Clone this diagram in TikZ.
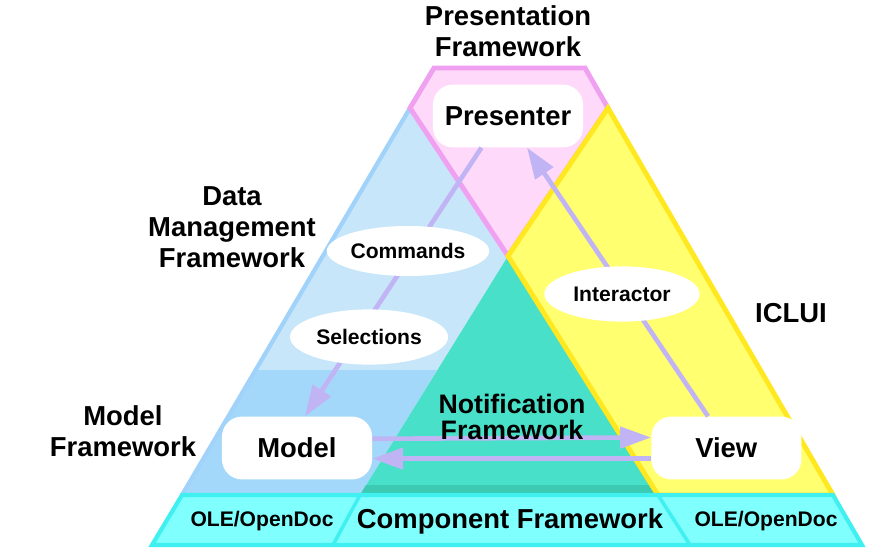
\documentclass[tikz,border=0pt]{standalone}
\usepackage{fontspec}
\setmainfont{Liberation Sans}
\usetikzlibrary{positioning,shapes.geometric,arrows.meta}
\definecolor{pinkfill}{HTML}{FFD9F9}
\definecolor{pinkline}{HTML}{F0A0F0}
\definecolor{bluefill}{HTML}{C8E6FA}
\definecolor{blueline}{HTML}{A0D2FA}
\definecolor{modelfill}{HTML}{A4D8FA}
\definecolor{greenfill}{HTML}{48E0C8}
\definecolor{greenline}{HTML}{3CCAB2}
\definecolor{yellowfill}{HTML}{FFFF70}
\definecolor{yellowline}{HTML}{FFE820}
\definecolor{cyanfill}{HTML}{80FFFF}
\definecolor{cyanline}{HTML}{40F0F0}
\definecolor{arrowc}{HTML}{C0B4F4}
\tikzset{
  box/.style={fill=white, rounded corners=0.5cm, minimum width=3.75cm, minimum height=1.57cm,
    font=\bfseries\fontsize{19.5}{22}\selectfont},
  bubble/.style={ellipse, fill=white, inner sep=0pt, font=\bfseries\fontsize{15}{17}\selectfont},
  heading/.style={align=center, font=\bfseries\fontsize{19.5}{22}\selectfont},
  smalltext/.style={font=\bfseries\fontsize{15}{17}\selectfont},
  flow/.style={color=arrowc, line width=3.3pt, -{Triangle[length=22pt,width=15pt]}},
}
\begin{document}
\begin{tikzpicture}[x=0.025cm,y=-0.025cm,on grid,node distance=1cm]
\useasboundingbox (0,0) rectangle (872,553);
% corners of the triangle
\coordinate (tl) at (434,68);
\coordinate (tr) at (585,68);
\coordinate (pl) at (410,108);
\coordinate (pr) at (608,108);
\coordinate (c) at (508,256);
\coordinate (bl) at (182,495);
\coordinate (gl) at (360,495);
\coordinate (gr) at (658,495);
\coordinate (br) at (833,495);
\coordinate (fl) at (152,545);
\coordinate (dl) at (333,545);
\coordinate (dr) at (690,545);
\coordinate (fr) at (862,545);

% data management band
\fill[bluefill] (pl) -- (c) -- (gl) -- (bl) -- cycle;
\fill[modelfill] (256,370) -- (437,370) -- (gl) -- (bl) -- cycle;
\draw[blueline, line width=3pt] (pl) -- (bl);
% notification
\fill[greenfill] (c) -- (gr) -- (gl) -- cycle;
\fill[greenline] (gl) -- (366,485) -- (652,485) -- (gr) -- cycle;
% presentation
\filldraw[fill=pinkfill, draw=pinkline, line width=3.5pt] (tl) -- (tr) -- (pr) -- (c) -- (pl) -- cycle;
% iclui
\filldraw[fill=yellowfill, draw=yellowline, line width=3.5pt] (pr) -- (br) -- (gr) -- (c) -- cycle;
% component framework
\filldraw[fill=cyanfill, draw=cyanline, line width=3pt] (bl) -- (br) -- (fr) -- (fl) -- cycle;
\draw[cyanline, line width=2.5pt] (gl) -- (dl) (gr) -- (dr);

\node[box] (presenter) at (508,116) {Presenter};
\node[box] (model) at (297,448) {Model};
\node[box, right=10.73cm of model] (view) {View};

\path[flow]
  (presenter.230) edge (model.76)
  (view.120) edge (presenter.301)
  (model.7) edge (view.172)
  (view.188) edge (model.-8);

\node[bubble, minimum width=3.63cm, minimum height=1.25cm] (commands) at (408,251) {Commands};
\node[bubble, minimum width=3.95cm, minimum height=1.38cm] (selections) at (369,337) {Selections};
\node[bubble, minimum width=3.88cm, minimum height=1.38cm] (interactor) at (622,294) {Interactor};

\node[heading, above=2.13cm of presenter] (presframe) {Presentation\\Framework};
\node[heading] (dataframe) at (232,227) {Data\\Management\\Framework};
\node[heading] (modelframe) at (123,431) {Model\\Framework};
\node[heading] (iclui) at (791,313) {ICLUI};
\node[heading, font=\bfseries\fontsize{19}{18.5}\selectfont] (notify) at (512,417) {Notification\\Framework};
\node[heading] (component) at (510,521) {Component Framework};
\node[smalltext] (oleleft) at (262,521) {OLE/OpenDoc};
\node[smalltext] (oleright) at (766,521) {OLE/OpenDoc};
\end{tikzpicture}
\end{document}
